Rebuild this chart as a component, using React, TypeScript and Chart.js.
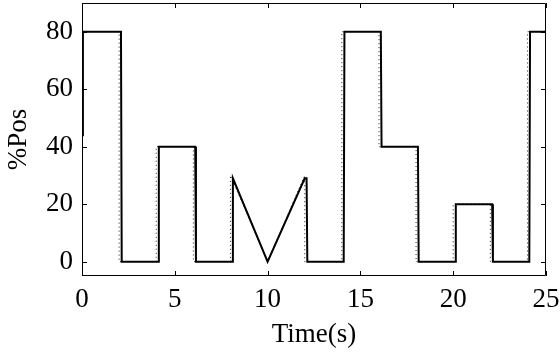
import React, { useEffect, useRef } from "react";
import { Chart, registerables } from "chart.js";

Chart.register(...registerables);

const setpointTimes = [0, 2, 2, 4, 4, 6, 6, 8, 8, 10, 12, 12, 14, 14, 16, 16, 18, 18, 20, 20, 22, 22, 24, 24, 25];
const setpointValues = [80, 80, 0, 0, 40, 40, 0, 0, 30, 0, 30, 0, 0, 80, 80, 40, 40, 0, 0, 20, 20, 0, 0, 80, 80];

const responseTimes = [0, 0.05, 2.1, 2.14, 4.1, 4.14, 6.1, 6.14, 8.1, 8.13, 10, 12, 12.1, 12.14, 14.1, 14.14, 16.1, 16.14, 18.1, 18.14, 20.1, 20.14, 22.1, 22.14, 24.1, 24.14, 25];
const responseValues = [44, 80, 80, 0, 0, 40, 40, 0, 0, 29, 0, 29, 29, 0, 0, 80, 80, 40, 40, 0, 0, 20, 20, 0, 0, 80, 80];

const xTicks = [0, 5, 10, 15, 20, 25];
const yTicks = [0, 20, 40, 60, 80];

const xTitle = "Time(s)";
const yTitle = "%Pos";

const FONT = "'Liberation Serif', 'Times New Roman', serif";
const FSIZE = 27;

const boxPlugin = {
  id: "boxTicks",
  afterDraw(chart: any) {
    const { ctx, chartArea } = chart;
    const { left, right, top, bottom } = chartArea;
    const xs = chart.scales.x;
    const ys = chart.scales.y;
    const len = 5;
    ctx.save();
    ctx.strokeStyle = "#000";
    ctx.lineWidth = 1;
    ctx.beginPath();
    ctx.rect(left + 0.5, top + 0.5, right - left - 1, bottom - top - 1);
    for (const v of xTicks) {
      const px = Math.round(xs.getPixelForValue(v)) + 0.5;
      ctx.moveTo(px, bottom);
      ctx.lineTo(px, bottom - len);
      ctx.moveTo(px, top);
      ctx.lineTo(px, top + len);
    }
    for (const v of yTicks) {
      const py = Math.round(ys.getPixelForValue(v)) + 0.5;
      ctx.moveTo(left, py);
      ctx.lineTo(left + len, py);
      ctx.moveTo(right, py);
      ctx.lineTo(right - len, py);
    }
    ctx.stroke();
    ctx.restore();
  },
};

export default function App() {
  const ref = useRef<HTMLCanvasElement | null>(null);
  useEffect(() => {
    if (!ref.current) return;
    const chart = new Chart(ref.current, {
      type: "line",
      data: {
        datasets: [
          {
            label: "response",
            data: responseTimes.map((t, i) => ({ x: t, y: responseValues[i] })),
            borderColor: "#000",
            borderWidth: 2,
            pointRadius: 0,
            fill: false,
            tension: 0,
          },
          {
            label: "setpoint",
            data: setpointTimes.map((t, i) => ({ x: t, y: setpointValues[i] })),
            borderColor: "#222",
            borderWidth: 1,
            borderDash: [1, 3],
            pointRadius: 0,
            fill: false,
            tension: 0,
          },
        ],
      },
      plugins: [boxPlugin],
      options: {
        animation: false,
        responsive: false,
        maintainAspectRatio: false,
        layout: { padding: { top: 3, right: 14, left: 0, bottom: 0 } },
        plugins: { legend: { display: false }, tooltip: { enabled: false } },
        scales: {
          x: {
            type: "linear",
            min: 0,
            max: 25,
            afterBuildTicks: (s: any) => {
              s.ticks = xTicks.map((v) => ({ value: v }));
            },
            afterFit: (s: any) => {
              s.height = 79;
              s.paddingLeft = 0;
              s.paddingRight = 0;
              s.paddingTop = 0;
              s.paddingBottom = 0;
            },
            grid: { display: false, drawTicks: false },
            border: { display: false },
            ticks: {
              color: "#000",
              font: { family: FONT, size: FSIZE },
              padding: 8,
              maxRotation: 0,
              autoSkip: false,
            },
            title: {
              display: true,
              text: xTitle,
              color: "#000",
              font: { family: FONT, size: FSIZE },
              padding: { top: 0, bottom: 4 },
            },
          },
          y: {
            type: "linear",
            min: -5,
            max: 90,
            afterBuildTicks: (s: any) => {
              s.ticks = yTicks.map((v) => ({ value: v }));
            },
            afterFit: (s: any) => {
              s.width = 82;
              s.paddingLeft = 0;
              s.paddingRight = 0;
              s.paddingTop = 0;
              s.paddingBottom = 0;
            },
            grid: { display: false, drawTicks: false },
            border: { display: false },
            ticks: {
              color: "#000",
              font: { family: FONT, size: FSIZE },
              padding: 9,
              autoSkip: false,
            },
            title: {
              display: true,
              text: yTitle,
              color: "#000",
              font: { family: FONT, size: FSIZE },
              padding: { top: 3, bottom: 0 },
            },
          },
        },
      },
    });
    return () => chart.destroy();
  }, []);
  return (
    <div style={{ position: "fixed", left: 0, top: 0, width: 560, height: 355, background: "#fff" }}>
      <canvas ref={ref} width={560} height={355} style={{ width: 560, height: 355 }} />
    </div>
  );
}
